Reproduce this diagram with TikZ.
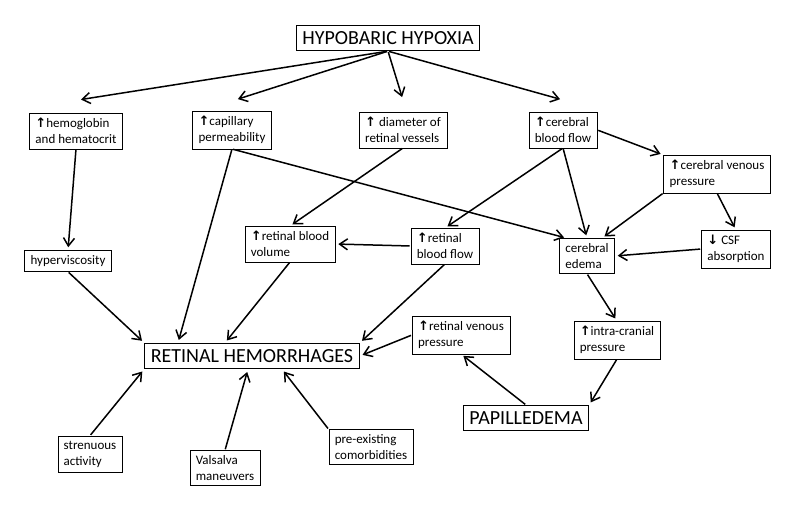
\documentclass[tikz,border=0pt]{standalone}
\usepackage{fontspec}
\setmainfont{Carlito}
\newfontfamily\symfont{DejaVu Sans}
\usetikzlibrary{arrows.meta}
\newcommand{\up}{{\symfont\bfseries ↑}}
\newcommand{\dn}{{\symfont\bfseries ↓}}
\begin{document}
\begin{tikzpicture}[x=1pt,y=-1pt,box/.style={draw=black,fill=white,align=left,font=\fontsize{13}{16}\selectfont,inner xsep=6pt,inner ysep=5pt},big/.style={draw=black,line width=1.2pt,fill=white,font=\fontsize{20}{24}\selectfont,inner sep=6pt},arr/.style={-{Straight Barb[length=8pt,width=11pt]},line width=1.5pt,shorten >=3pt,shorten <=1pt}]
\useasboundingbox (0,0) rectangle (800,506);

\node[big] (HH) at (388,38) {HYPOBARIC HYPOXIA};
\node[box] (hemo) at (76,131) {\up hemoglobin\\and hematocrit};
\node[box] (cap) at (232,130) {\up capillary\\permeability};
\node[box] (diam) at (403,130) {\up\ diameter of\\retinal vessels};
\node[box] (cbf) at (563,130) {\up cerebral\\blood flow};
\node[box] (cvp) at (717,174) {\up cerebral venous\\pressure};
\node[box] (rbv) at (290,244) {\up retinal blood\\volume};
\node[box] (rbf) at (445,246) {\up retinal\\blood flow};
\node[box] (hyp) at (68,261) {hyperviscosity};
\node[box] (ede) at (587,256) {cerebral\\edema};
\node[box] (csf) at (736,249) {\dn\ CSF\\absorption};
\node[box] (icp) at (617,340) {\up intra-cranial\\pressure};
\node[box] (rvp) at (461,335) {\up retinal venous\\pressure};
\node[big] (RH) at (252,356) {RETINAL HEMORRHAGES};
\node[big] (PAP) at (526,418) {PAPILLEDEMA};
\node[box] (str) at (90,454) {strenuous\\activity};
\node[box] (val) at (225,468) {Valsalva\\maneuvers};
\node[box] (pre) at (371,447) {pre-existing\\comorbidities};

\coordinate (hh1) at (78,100);
\coordinate (hh2) at (235,100);
\coordinate (hh3) at (403,100);
\coordinate (hh4) at (563,100);
\coordinate (rh1) at ([xshift=-74pt]RH.north);
\coordinate (rh2) at ([xshift=-27pt]RH.north);
\coordinate (rh3) at ([xshift=-4pt]RH.south);
\coordinate (rh4) at ([xshift=30pt]RH.south);
\coordinate (ed1) at ([xshift=-20pt]ede.north);
\coordinate (ed2) at ([xshift=15pt]ede.north);

\draw[arr] (HH.south) -- (hh1);
\draw[arr] (HH.south) -- (hh2);
\draw[arr] (HH.south) -- (hh3);
\draw[arr] (HH.south) -- (hh4);
\draw[arr] (hemo.south) -- (hyp.north);
\draw[arr] (hyp.south) -- (RH.north west);
\draw[arr] (cap.south) -- (rh1);
\draw[arr] (cap.south) -- (ed1);
\draw[arr] (diam.south) -- (rbv.north);
\draw[arr] (cbf.south) -- (rbf.north);
\draw[arr] (cbf.south) -- (ede.north);
\draw[arr] (cbf.east) -- (cvp.north west);
\draw[arr] (cvp.south west) -- (ed2);
\draw[arr] (cvp.south) -- (csf.north);
\draw[arr] (csf.west) -- (ede.east);
\draw[arr] (rbf.west) -- (rbv.east);
\draw[arr] (rbv.south) -- (rh2);
\draw[arr] (rbf.south) -- (RH.north east);
\draw[arr] (ede.south) -- (icp.north);
\draw[arr] (icp.south) -- (PAP.north east);
\draw[arr] (PAP.north) -- (rvp.south);
\draw[arr] (rvp.west) -- (RH.east);
\draw[arr] (str.north) -- (RH.south west);
\draw[arr] (val.north) -- (rh3);
\draw[arr] (pre.north west) -- (rh4);
\end{tikzpicture}
\end{document}
